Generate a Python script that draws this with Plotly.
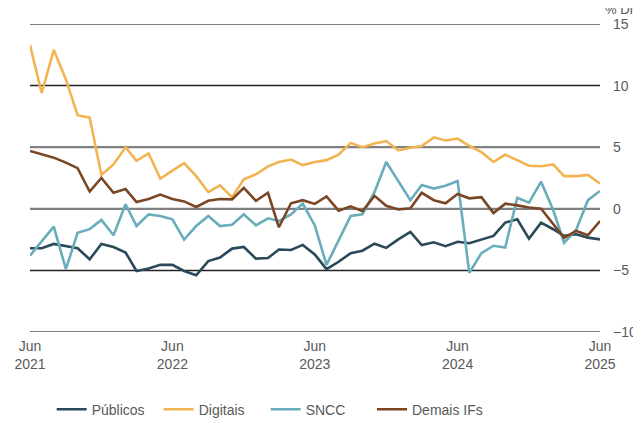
import plotly.graph_objects as go
import pandas as pd

dates = pd.date_range("2021-06-01", "2025-06-01", freq="MS")

publicos = [-3.2, -3.2, -2.85, -3.0, -3.2, -4.1, -2.85, -3.1, -3.55, -5.05,
            -4.85, -4.55, -4.55, -5.05, -5.4, -4.24, -3.96, -3.23, -3.1, -4.04,
            -4.0, -3.3, -3.34, -2.93, -3.7, -4.9, -4.3, -3.6, -3.4, -2.83,
            -3.17, -2.48, -1.88, -2.95, -2.72, -3.03, -2.68, -2.8, -2.53, -2.2,
            -1.12, -0.85, -2.42, -1.12, -1.66, -2.2, -2.07, -2.34, -2.48]

digitais = [13.3, 9.4, 12.9, 10.5, 7.6, 7.4, 2.75, 3.6, 5.0, 3.9,
            4.5, 2.45, 3.1, 3.7, 2.65, 1.35, 1.9, 0.95, 2.4, 2.8,
            3.45, 3.8, 4.0, 3.55, 3.8, 3.95, 4.4, 5.35, 5.0, 5.3,
            5.5, 4.75, 4.95, 5.1, 5.8, 5.55, 5.7, 5.1, 4.6, 3.8,
            4.4, 3.95, 3.5, 3.45, 3.6, 2.65, 2.65, 2.75, 2.05]

sncc = [-3.8, -2.6, -1.45, -4.9, -1.95, -1.65, -0.9, -2.15, 0.37, -1.4,
        -0.45, -0.58, -0.85, -2.5, -1.4, -0.58, -1.4, -1.3, -0.45, -1.34,
        -0.77, -1.0, -0.45, 0.42, -1.35, -4.55, -2.6, -0.58, -0.45, 1.35,
        3.8, 2.3, 0.7, 1.93, 1.64, 1.88, 2.26, -5.2, -3.6, -3.0,
        -3.15, 0.9, 0.5, 2.2, -0.1, -2.75, -1.7, 0.7, 1.45]

demais = [4.7, 4.4, 4.15, 3.75, 3.3, 1.4, 2.5, 1.3, 1.6, 0.55,
          0.8, 1.15, 0.8, 0.6, 0.15, 0.65, 0.8, 0.77, 1.7, 0.65,
          1.3, -1.5, 0.45, 0.7, 0.4, 1.0, -0.15, 0.2, -0.2, 1.05,
          0.25, -0.05, 0.05, 1.3, 0.7, 0.45, 1.2, 0.85, 0.95, -0.35,
          0.42, 0.28, 0.1, 0.0, -1.2, -2.35, -1.8, -2.15, -1.0]

series_names = ["Públicos", "Digitais", "SNCC", "Demais IFs"]
series_values = [publicos, digitais, sncc, demais]
colors = ["#2b4a58", "#f2b452", "#69adbd", "#7a4724"]
legend_ids = ["legend", "legend", "legend", "legend2"]

xtick_vals = ["2021-06-01", "2022-06-01", "2023-06-01", "2024-06-01", "2025-06-01"]
xtick_text = ["Jun<br>2021", "Jun<br>2022", "Jun<br>2023", "Jun<br>2024", "Jun<br>2025"]
ytick_vals = [-10, -5, 0, 5, 10, 15]

grid_styles = {15: ("#555555", 1.5), 10: ("#222222", 1.5), 5: ("#808080", 2.2),
               0: ("#808080", 2.2), -5: ("#222222", 1.5), -10: ("#808080", 2.2)}

fig = go.Figure()
for name, vals, col, lg in zip(series_names, series_values, colors, legend_ids):
    fig.add_trace(go.Scatter(x=dates, y=vals, mode="lines", name=name, legend=lg,
                             line=dict(color=col, width=2.6)))

for yv in ytick_vals:
    c, w = grid_styles[yv]
    fig.add_shape(type="line", xref="paper", yref="y", x0=0, x1=1, y0=yv, y1=yv,
                  line=dict(color=c, width=w), layer="below")

font_color = "#595959"
legend_common = dict(orientation="h", xanchor="left", y=-0.252, yanchor="middle",
                     font=dict(size=14, color=font_color), tracegroupgap=0,
                     bgcolor="rgba(0,0,0,0)")
fig.update_layout(
    width=633, height=416,
    margin=dict(l=22, r=41, t=16, b=92, autoexpand=False),
    paper_bgcolor="white", plot_bgcolor="white",
    font=dict(family="Liberation Sans, Arial, sans-serif", size=14, color=font_color),
    showlegend=True,
    legend=dict(x=0.038, entrywidth=62, entrywidthmode="pixels", **legend_common),
    legend2=dict(x=0.600, **legend_common),
    xaxis=dict(range=["2021-06-01", "2025-06-01"], tickvals=xtick_vals, ticktext=xtick_text,
               showgrid=False, zeroline=False, showline=False, ticks="",
               automargin=False, ticklabelstandoff=4),
    yaxis=dict(range=[-10, 15], tickvals=ytick_vals, side="right", showgrid=False,
               zeroline=False, showline=False, ticks="", ticklabelstandoff=12,
               automargin=False),
    annotations=[dict(text="% DI", xref="paper", yref="paper", x=1.005, y=1.0,
                      xanchor="left", yanchor="middle", yshift=15, showarrow=False,
                      font=dict(size=13, color=font_color))],
)

fig.write_html("out.html")
